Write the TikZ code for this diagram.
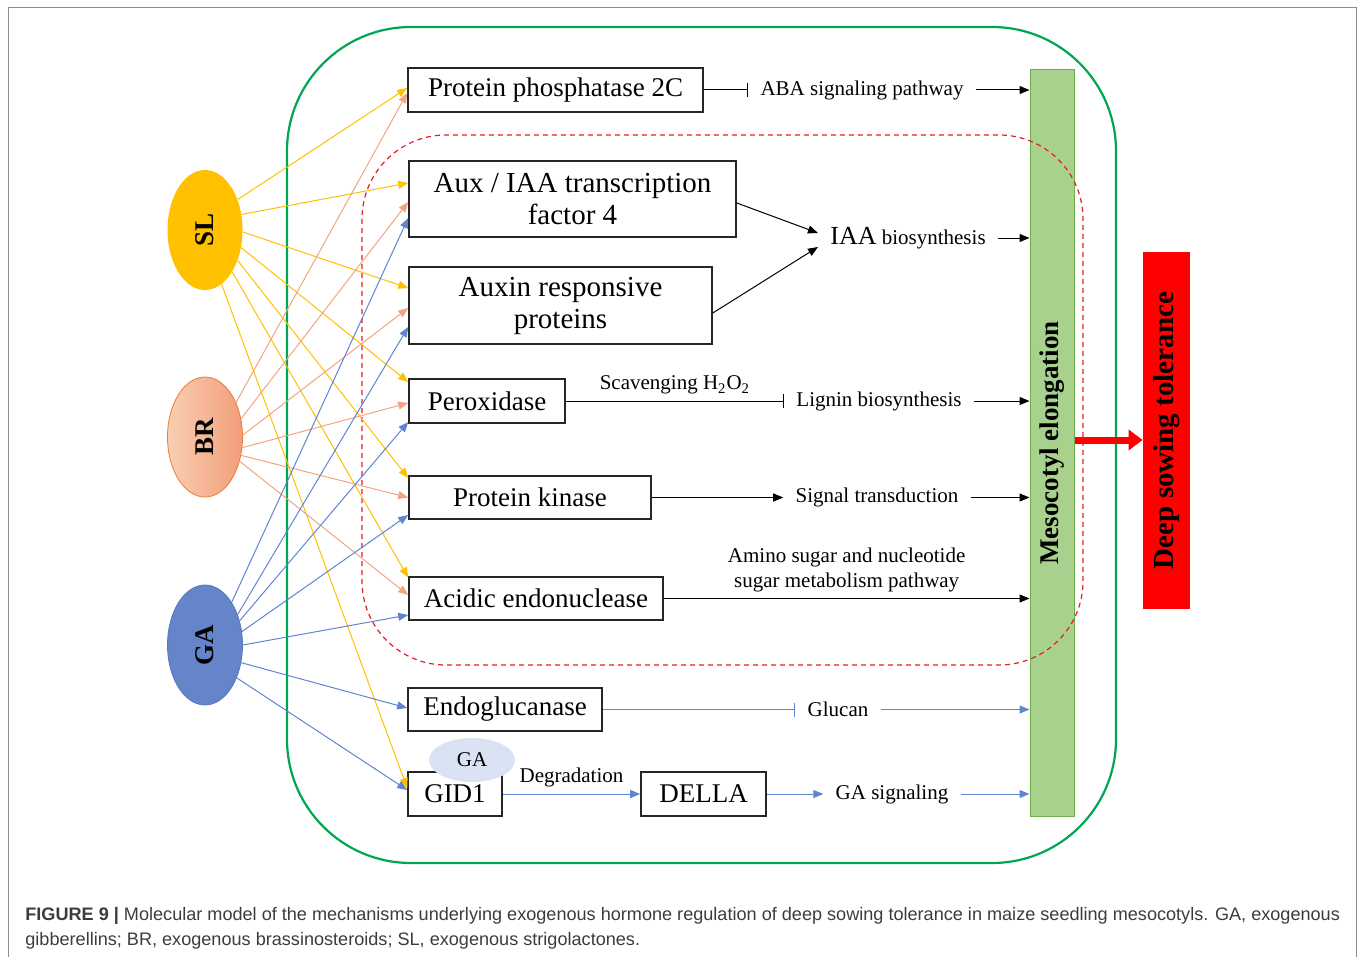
\documentclass[tikz,border=0pt]{standalone}
\usepackage{fontspec}
\setmainfont{Liberation Serif}
\newfontfamily\capfont{Liberation Sans}
\usetikzlibrary{arrows.meta,shapes.geometric}

\definecolor{slyellow}{RGB}{255,192,0}
\definecolor{brlight}{RGB}{249,206,178}
\definecolor{brdark}{RGB}{242,158,122}
\definecolor{bredge}{RGB}{237,125,49}
\definecolor{brline}{RGB}{241,165,130}
\definecolor{gablue}{RGB}{100,133,202}
\definecolor{galine}{RGB}{95,132,208}
\definecolor{gapale}{RGB}{218,227,243}
\definecolor{cellgreen}{RGB}{0,166,81}
\definecolor{bargreen}{RGB}{169,209,142}
\definecolor{baredge}{RGB}{112,173,71}
\definecolor{dashred}{RGB}{227,30,36}
\definecolor{captext}{RGB}{60,60,60}

\tikzset{
  protbox/.style={draw=black!85, line width=0.8pt, inner sep=0pt, align=center,
    font=\fontsize{13.5}{16}\selectfont},
  hormone/.style={ellipse, inner sep=0pt, minimum width=37.5pt, minimum height=60pt,
    font=\fontsize{13.5}{16}\selectfont\bfseries},
  effect/.style={inner xsep=6pt, inner ysep=3pt, align=center, text=black,
    font=\fontsize{10.5}{12.5}\selectfont},
  hit/.style={-{Triangle[length=5pt,width=4pt]}, line width=0.5pt},
  block/.style={-{Bar[width=7pt]}, line width=0.5pt},
}

\begin{document}
\begin{tikzpicture}[x=0.5pt, y=-0.5pt]
\useasboundingbox (0,0) rectangle (1358,957);
% page frame
\draw[black!45, line width=0.5pt] (8,957) -- (8,8) -- (1356,8) -- (1356,957);

% cell and auxin region
\draw[cellgreen, line width=1.1pt, rounded corners=62pt] (287,27) rectangle (1116,863);

% hormones
\node[hormone, fill=slyellow] (sl) at (205,230) {\rotatebox{90}{SL}};
\node[hormone, left color=brlight, right color=brdark, draw=bredge, line width=0.4pt] (br) at (205,437) {\rotatebox{90}{BR}};
\node[hormone, fill=gablue, draw=gablue!90!black, line width=0.4pt] (ga) at (205,645) {\rotatebox{90}{GA}};

% proteins
\node[protbox, minimum width=147.5pt, minimum height=22pt] (pp2c) at (555.5,90) {Protein phosphatase 2C};
\node[protbox, minimum width=163.5pt, minimum height=38pt, font=\fontsize{14.5}{16}\selectfont] (aux) at (572.5,199) {Aux / IAA transcription\\factor 4};
\node[protbox, minimum width=151.5pt, minimum height=38.5pt, font=\fontsize{14.5}{16}\selectfont] (auxr) at (560.5,305.5) {Auxin responsive\\proteins};
\node[protbox, minimum width=78pt, minimum height=22pt] (perox) at (487,401) {Peroxidase};
\node[protbox, minimum width=121pt, minimum height=21.5pt] (kinase) at (530,497.5) {Protein kinase};
\node[protbox, minimum width=127pt, minimum height=21.5pt] (endonuc) at (536,598.5) {Acidic endonuclease};
\node[protbox, minimum width=97pt, minimum height=21.5pt] (endoglu) at (505,709.5) {Endoglucanase};
\node[protbox, minimum width=47pt, minimum height=22pt] (gid) at (455,794) {GID1};
\node[protbox, minimum width=62.5pt, minimum height=22pt] (della) at (703.5,794) {DELLA};
\node[ellipse, fill=gapale, inner sep=0pt, minimum width=43pt, minimum height=22pt,
  font=\fontsize{10.5}{12.5}\selectfont] (gabind) at (472,760) {GA};

% mesocotyl bar and outcome
\node[draw=baredge, fill=bargreen, line width=0.5pt, inner sep=0pt, minimum width=22pt, minimum height=373pt,
  font=\fontsize{13.5}{16}\selectfont\bfseries] (bar) at (1052,443) {\rotatebox{90}{Mesocotyl elongation}};
\node[fill=red, inner sep=0pt, minimum width=23.5pt, minimum height=178.5pt,
  font=\fontsize{14.5}{16}\selectfont\bfseries] (deep) at (1166.5,430.5) {\rotatebox{90}{Deep sowing tolerance}};
\draw[dashred, line width=0.6pt, dash pattern=on 2.5pt off 2pt, rounded corners=42pt] (362,135) rectangle (1083,665);
\draw[-{Triangle[length=7pt,width=10pt]}, red, line width=3.5pt] ([yshift=1.5pt]bar.east) -- ([yshift=1.5pt]bar.east -| deep.west);

% SL targets
\draw[hit, slyellow] (sl.43) -- ([yshift=1pt]pp2c.west);
\draw[hit, slyellow] (sl.23) -- ([yshift=8pt]aux.west);
\draw[hit, slyellow] (sl.-3) -- ([yshift=8.75pt]auxr.west);
\draw[hit, slyellow] (sl.-26) -- ([yshift=9.5pt]perox.west);
\draw[hit, slyellow] (sl.-43) -- ([yshift=9.75pt]kinase.west);
\draw[hit, slyellow] (sl.-57) -- ([yshift=10.5pt]endonuc.west);
\draw[hit, slyellow] (sl.-73) -- ([yshift=3pt]gid.west);

% BR targets
\draw[hit, brline] (br.48) -- ([yshift=-1.5pt]pp2c.west);
\draw[hit, brline] (br.27) -- ([yshift=-1.5pt]aux.west);
\draw[hit, brline] (br.3) -- ([yshift=-1.25pt]auxr.west);
\draw[hit, brline] (br.-16) -- ([yshift=-1pt]perox.west);
\draw[hit, brline] (br.-27) -- (kinase.west);
\draw[hit, brline] (br.-35) -- ([yshift=1.75pt]endonuc.west);

% GA targets
\draw[hit, galine] (ga.58) -- ([yshift=-9.5pt]aux.west);
\draw[hit, galine] (ga.43) -- ([yshift=-10.75pt]auxr.west);
\draw[hit, galine] (ga.35) -- ([yshift=-10.5pt]perox.west);
\draw[hit, galine] (ga.20) -- ([yshift=-8.75pt]kinase.west);
\draw[hit, galine] (ga.0) -- ([yshift=-8.25pt]endonuc.west);
\draw[hit, galine] (ga.-26) -- ([yshift=0.75pt]endoglu.west);
\draw[hit, galine] (ga.-46) -- ([yshift=2pt]gid.west);

% downstream effects
\node[effect] (aba) at (862,90) {ABA signaling pathway};
\draw[block] (pp2c) -- (aba);
\draw[hit] (aba) -- (aba -| bar.west);

\node[effect] (iaa) at (908,238) {{\fontsize{13}{15}\selectfont IAA} biosynthesis};
\draw[hit] ([yshift=-2pt]aux.east) -- ([yshift=2.5pt]iaa.west);
\draw[hit] ([yshift=-3.75pt]auxr.east) -- ([yshift=-4.5pt]iaa.west);
\draw[hit] (iaa) -- (iaa -| bar.west);

\node[effect] (lignin) at (879,401) {Lignin biosynthesis};
\draw[block] (perox) -- node[effect, above] {Scavenging H\textsubscript{2}O\textsubscript{2}} (lignin);
\draw[hit] (lignin) -- (lignin -| bar.west);

\node[effect] (signal) at (877,497.5) {Signal transduction};
\draw[hit] (kinase) -- (signal);
\draw[hit] (signal) -- (signal -| bar.west);

\draw[hit] (endonuc) -- node[effect, above] {Amino sugar and nucleotide\\sugar metabolism pathway} (endonuc -| bar.west);

\node[effect] (glucan) at (838,709.5) {Glucan};
\draw[block, galine] (endoglu) -- (glucan);
\draw[hit, galine] (glucan) -- (glucan -| bar.west);

\draw[hit, galine] (gid) -- node[effect, above] {Degradation} (della);
\node[effect] (gasig) at (892,794) {GA signaling};
\draw[hit, galine] (della) -- (gasig);
\draw[hit, galine] (gasig) -- (gasig -| bar.west);

% caption
\node[anchor=base west, inner sep=0pt, text=captext, font=\capfont\fontsize{9.05}{12.5}\selectfont] (cap1) at (25,920)
  {\textbf{FIGURE 9 |} Molecular model of the mechanisms underlying exogenous hormone regulation of deep sowing tolerance in maize seedling mesocotyls. GA, exogenous};
\node[anchor=base west, inner sep=0pt, text=captext, font=\capfont\fontsize{9.05}{12.5}\selectfont] (cap2) at (25,945)
  {gibberellins; BR, exogenous brassinosteroids; SL, exogenous strigolactones.};
\end{tikzpicture}
\end{document}
